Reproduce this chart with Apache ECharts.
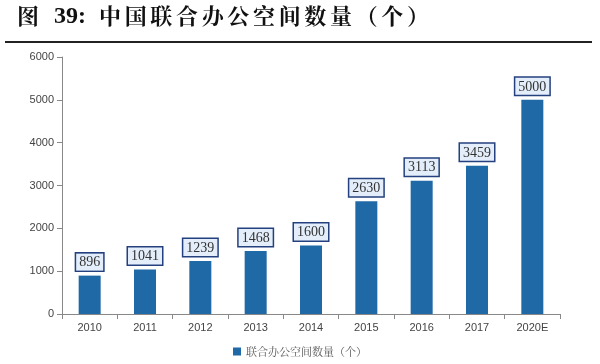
<!DOCTYPE html>
<html><head><meta charset="utf-8">
<script src="https://cdn.jsdelivr.net/npm/echarts@6/dist/echarts.min.js"></script>
<style>html,body{margin:0;padding:0;background:#fff;}#c{width:600px;height:364px;}</style>
</head><body><div id="c"></div>
<script>
const categories = ['2010','2011','2012','2013','2014','2015','2016','2017','2020E'];
const values = [896,1041,1239,1468,1600,2630,3113,3459,5000];
const seriesName = '联合办公空间数量（个）';
const yTicks = {min:0,max:6000,interval:1000};
const titleFig = '图';
const titleNum = '39:';
const titleMain = '中国联合办公空间数量（个）';
const chart = echarts.init(document.getElementById('c'));
const tf = {fontFamily:'"Noto Serif CJK SC","Noto Sans CJK SC",serif',fontWeight:'bold',fontSize:22,fill:'#111'};
chart.setOption({
  animation:false,
  graphic:[
    {type:'text',left:17,top:5,style:Object.assign({text:titleFig},tf)},
    {type:'text',left:54,top:5,style:Object.assign({text:titleNum},tf,{fontFamily:'"Liberation Serif","Times New Roman",serif',fontSize:24})},
    {type:'text',left:99,top:5,style:Object.assign({text:titleMain.split('').join('\u2006')},tf)},
    {type:'line',shape:{x1:5,y1:42,x2:592,y2:42},style:{stroke:'#222',lineWidth:2}}],
  legend:{bottom:2,left:'center',itemWidth:8,itemHeight:8,icon:'rect',itemGap:4,
    textStyle:{fontFamily:'"Noto Serif CJK SC","Noto Sans CJK SC",serif',fontSize:11,color:'#555'}},
  grid:{left:62,right:40,top:57,bottom:50},
  xAxis:{type:'category',data:categories,
    axisLine:{lineStyle:{color:'#888'}},axisTick:{show:true,alignWithLabel:false,lineStyle:{color:'#888'}},
    axisLabel:{color:'#444',fontFamily:'Arial, "Liberation Sans"',fontSize:11,margin:8}},
  yAxis:{type:'value',min:yTicks.min,max:yTicks.max,interval:yTicks.interval,
    axisLine:{show:true,lineStyle:{color:'#888'}},axisTick:{show:true,lineStyle:{color:'#888'}},
    splitLine:{show:false},
    axisLabel:{color:'#444',fontFamily:'Arial, "Liberation Sans"',fontSize:11,margin:8,formatter:v=>String(v)}},
  series:[{name:seriesName,type:'bar',data:values,barWidth:22,
    itemStyle:{color:'#1F69A6'},
    label:{show:true,position:'top',distance:5,
      fontFamily:'"Liberation Serif","Times New Roman",serif',fontSize:14,color:'#333',
      backgroundColor:'#E3EEFA',borderColor:'#24407E',borderWidth:1.5,borderRadius:0,
      padding:[2,3,1,3]}}]
});
</script></body></html>
